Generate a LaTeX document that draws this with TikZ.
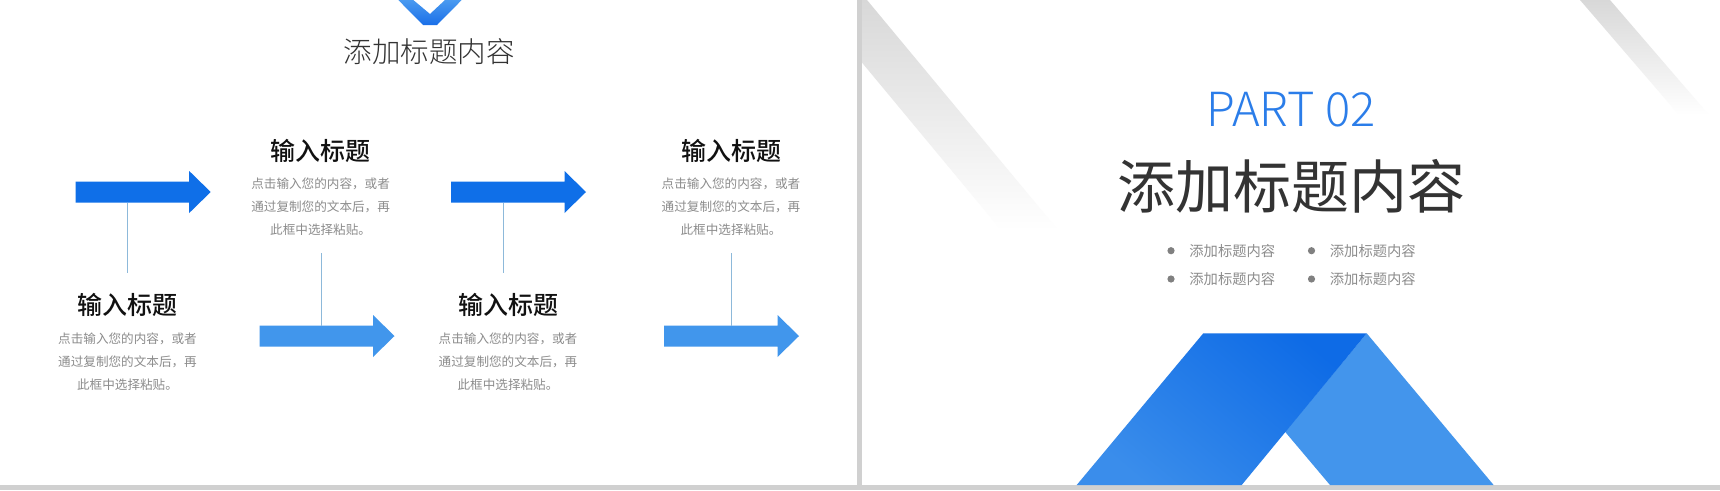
\documentclass[tikz,border=0pt]{standalone}
\usepackage{fontspec}
\setmainfont{Noto Sans CJK SC}[BoldFont=* Medium]
\newfontfamily\lightfont{Noto Sans CJK SC}[UprightFont=* Light]
\usepackage{tikz}
\usetikzlibrary{positioning}
\usepackage{xcolor}
\definecolor{arrowdark}{HTML}{0F6FE8}
\definecolor{arrowlight}{HTML}{4196EC}
\definecolor{stemblue}{HTML}{8DB9DA}
\definecolor{headblack}{HTML}{111111}
\definecolor{bodygray}{HTML}{8C8C8C}
\definecolor{titlegray}{HTML}{333333}
\definecolor{partblue}{HTML}{2B7DE9}
\definecolor{dotgray}{HTML}{808080}
\definecolor{framegray}{HTML}{D0D0D0}
\definecolor{stripegray}{HTML}{D8D8D8}
\definecolor{chevlight}{HTML}{4A9AF0}
\definecolor{chevdark}{HTML}{1A6FE8}
\definecolor{roofdark}{HTML}{0E6BE6}
\definecolor{rooflight}{HTML}{3A8DEB}
\definecolor{roofside}{HTML}{4395EC}
% block arrow: colour, x of tail, y of axis
\newcommand{\flowarrow}[3]{%
  \fill[#1] (#2,#3-10.5) -- ++(113.5,0) -- ++(0,-10.5) -- ++(21.5,21)
    -- ++(-21.5,21) -- ++(0,-10.5) -- ++(-113.5,0) -- cycle;}

\begin{document}
\begin{tikzpicture}[x=1pt,y=-1pt,
    heading/.style={font=\bfseries\fontsize{25}{28}\selectfont, text=headblack, inner sep=0pt},
    body/.style={font=\fontsize{12.6}{23}\selectfont, text=bodygray, align=center, inner sep=0pt},
    stem/.style={draw=stemblue, line width=1pt},
    bulletdot/.style={circle, fill=dotgray, inner sep=0pt, minimum size=7.2pt},
    bulletitem/.style={font=\fontsize{14.3}{16}\selectfont, text=bodygray, inner sep=0pt}]
    \useasboundingbox (0,0) rectangle (1720,490);
    \fill[white] (0,0) rectangle (1720,490);

    % Grey stripes on the right slide
    \begin{scope}
        \clip (862,0) rectangle (1720,485);
        \shade[top color=stripegray, bottom color=white]
            (810,0) -- (867,0) -- (1058,230) -- (1001,230) -- cycle;
        \shade[top color=stripegray, bottom color=white]
            (1580,0) -- (1610,0) -- (1709,115) -- (1679,115) -- cycle;
    \end{scope}

    % Slide frames
    \fill[framegray] (857,0) rectangle (862,490);
    \fill[framegray] (0,485) rectangle (1720,490);

    % Left slide: chevron and title
    \shade[top color=chevlight, bottom color=chevdark]
        (398.3,0) -- (423,25) -- (437,25) -- (461.7,0) -- (445,0) -- (430,14) -- (413.3,0) -- cycle;
    \node[font=\lightfont\fontsize{28.5}{32}\selectfont, text=titlegray, inner sep=0pt]
        (ltitle) at (429,51.6) {添加标题内容};

    % Arrows
    \flowarrow{arrowdark}{75.7}{192}
    \flowarrow{arrowdark}{451}{192}
    \flowarrow{arrowlight}{259.5}{336}
    \flowarrow{arrowlight}{664}{336}

    % Stems
    \coordinate (s1a) at (127.8,202.5);  \coordinate (s1b) at (127.8,273);
    \coordinate (s2a) at (321,253);      \coordinate (s2b) at (321,325.5);
    \coordinate (s3a) at (503.6,202.5);  \coordinate (s3b) at (503.6,273);
    \coordinate (s4a) at (731,253);      \coordinate (s4b) at (731,325.5);
    \draw[stem] (s1a) -- (s1b);
    \draw[stem] (s2a) -- (s2b);
    \draw[stem] (s3a) -- (s3b);
    \draw[stem] (s4a) -- (s4b);

    % Text blocks
    \node[heading] (h1) at (320.6,151) {输入标题};
    \node[body] (b1) at (320.6,207) {点击输入您的内容，或者\\通过复制您的文本后，再\\此框中选择粘贴。};
    \node[heading] (h2) at (127.5,304.5) {输入标题};
    \node[body] (b2) at (127.5,361.5) {点击输入您的内容，或者\\通过复制您的文本后，再\\此框中选择粘贴。};
    \node[heading] (h3) at (508,304.5) {输入标题};
    \node[body] (b3) at (508,361.5) {点击输入您的内容，或者\\通过复制您的文本后，再\\此框中选择粘贴。};
    \node[heading] (h4) at (731,151) {输入标题};
    \node[body] (b4) at (731,207) {点击输入您的内容，或者\\通过复制您的文本后，再\\此框中选择粘贴。};

    % Right slide: part title
    \node[font=\lightfont\fontsize{47}{50}\selectfont, text=partblue, inner sep=0pt]
        (part) at (1291,109.5) {PART 02};
    \node[font=\fontsize{58}{62}\selectfont, text=titlegray, inner sep=0pt]
        (btitle) at (1291.4,186.5) {添加标题内容};

    % Bullet list
    \node[bulletdot] (d1) at (1171,250.7) {};
    \node[bulletdot] (d2) at (1171,279) {};
    \node[bulletdot] (d3) at (1311.5,250.7) {};
    \node[bulletdot] (d4) at (1311.5,279) {};
    \node[bulletitem, right=14.4pt of d1] (t1) {添加标题内容};
    \node[bulletitem, right=14.4pt of d2] (t2) {添加标题内容};
    \node[bulletitem, right=14.4pt of d3] (t3) {添加标题内容};
    \node[bulletitem, right=14.4pt of d4] (t4) {添加标题内容};

    % Blue roof
    \fill[roofside] (1285,431.7) -- (1366.7,333.3) -- (1493.6,485) -- (1330,485) -- cycle;
    \shade[top color=roofdark, bottom color=rooflight, shading angle=-40]
        (1076.7,485) -- (1203.3,333.3) -- (1366.7,333.3) -- (1241.7,485) -- cycle;
\end{tikzpicture}
\end{document}
